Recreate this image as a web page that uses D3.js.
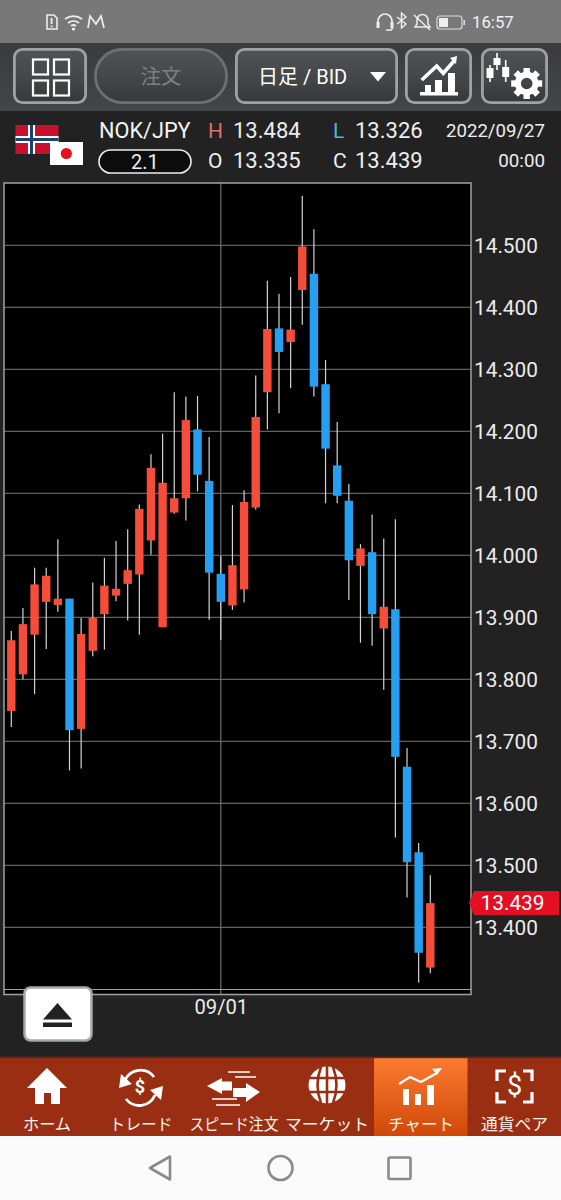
<!DOCTYPE html>
<html><head><meta charset="utf-8">
<script src="https://cdn.jsdelivr.net/npm/d3@7"></script>
<style>html,body{margin:0;padding:0;background:#222}svg{display:block}text{font-family:Roboto,"Noto Sans CJK JP",sans-serif}</style>
</head><body><div id="c"></div>
<script>
const dates=["08/08","08/09","08/10","08/11","08/12","08/15","08/16","08/17","08/18","08/19","08/22","08/23","08/24","08/25","08/26","08/29","08/30","08/31","09/01","09/02","09/05","09/06","09/07","09/08","09/09","09/12","09/13","09/14","09/15","09/16","09/19","09/20","09/21","09/22","09/23","09/26","09/27"];
const opens =[13.749,13.808,13.872,13.925,13.920,13.930,13.720,13.846,13.905,13.935,13.954,13.969,14.024,13.884,14.069,14.092,14.203,14.120,13.970,13.919,13.945,14.077,14.263,14.366,14.344,14.428,14.454,14.276,14.145,14.088,13.983,14.005,13.882,13.913,13.659,13.521,13.335];
const highs =[13.878,13.915,13.980,13.980,14.026,13.930,13.899,13.956,13.996,14.023,14.042,14.082,14.163,14.196,14.263,14.256,14.257,14.191,13.999,14.081,14.105,14.290,14.443,14.422,14.449,14.580,14.526,14.315,14.215,14.115,14.018,14.066,14.027,14.058,13.689,13.536,13.484];
const lows  =[13.723,13.800,13.776,13.849,13.909,13.653,13.656,13.837,13.848,13.926,13.895,13.872,14.001,13.884,14.067,14.056,14.103,13.896,13.863,13.912,13.924,14.074,14.203,14.229,14.270,14.372,14.256,14.084,14.084,13.928,13.859,13.854,13.783,13.545,13.448,13.311,13.326];
const closes=[13.863,13.889,13.953,13.967,13.930,13.718,13.873,13.899,13.951,13.946,13.976,14.075,14.141,14.117,14.092,14.218,14.130,13.972,13.925,13.984,14.086,14.223,14.365,14.328,14.364,14.498,14.272,14.172,14.096,13.992,14.011,13.905,13.917,13.675,13.505,13.359,13.439];
const priceTicks=[13.4,13.5,13.6,13.7,13.8,13.9,14.0,14.1,14.2,14.3,14.4,14.5];
const dateTicks=["09/01"];
const lastPrice=13.439;
const navLabels=["ホーム","トレード","スピード注文","マーケット","チャート","通貨ペア"];
const navWidths=[48,63,89,84,66,67];
const navCenters=[47,141,234,327,421,514.5];

const svg=d3.select("#c").append("svg").attr("width",561).attr("height",1200).attr("viewBox","0 0 561 1200");
const defs=svg.append("defs");
function grad(id,stops){const g=defs.append("linearGradient").attr("id",id).attr("x1",0).attr("y1",0).attr("x2",0).attr("y2",1);
 stops.forEach(([o,c])=>g.append("stop").attr("offset",o).attr("stop-color",c));}
grad("tb",[[0,"#3a3b3d"],[1,"#434547"]]);
grad("btn",[[0,"#505356"],[.5,"#45484a"],[1,"#36383a"]]);
grad("sel",[[0,"#fb7b30"],[1,"#d04808"]]);
const R=(x,y,w,h,f,o={})=>{const r=svg.append("rect").attr("x",x).attr("y",y).attr("width",w).attr("height",h).attr("fill",f);for(const k in o)r.attr(k,o[k]);return r;};
const T=(p,s,x,y,size,fill,anchor="start",o={})=>{const t=p.append("text").text(s).attr("x",x).attr("y",y).attr("font-size",size).attr("fill",fill).attr("text-anchor",anchor);for(const k in o)t.attr(k,o[k]);return t;};
const P=(p,d,f,o={})=>{const t=p.append("path").attr("d",d).attr("fill",f);for(const k in o)t.attr(k,o[k]);return t;};

/* backgrounds */
R(0,0,561,1200,"#222222");
R(0,0,561,43,"#787878");
R(0,43,561,68,"url(#tb)");

/* status bar */
const st=svg.append("g");
P(st,"M47 15h7l3 3v11h-10z","none",{stroke:"#eee","stroke-width":1.6});
R(50.7,18,1.8,6,"#eee");R(50.7,25.5,1.8,1.8,"#eee");
P(st,"M65 19a14 14 0 0 1 17 0M68 23a9 9 0 0 1 11 0M71 26a4 4 0 0 1 5 0","none",{stroke:"#eee","stroke-width":1.7});
st.append("circle").attr("cx",73.5).attr("cy",29).attr("r",1.6).attr("fill","#eee");
P(st,"M88 28l2-12 6 8 5-8 3 12","none",{stroke:"#eee","stroke-width":1.7});
P(st,"M378 26v-5a7 7 0 0 1 14 0v5M386 30h4a2 2 0 0 0 2-3","none",{stroke:"#eee","stroke-width":1.7});
R(376.5,22,3,6,"#eee");R(390.5,22,3,6,"#eee");
P(st,"M397 17l9 7-4.5 4v-15l4.5 4-9 7","none",{stroke:"#eee","stroke-width":1.4});
P(st,"M415 27h15l-2-3v-4a5.5 5.5 0 0 0-11 0v4zM414 15l16 15","none",{stroke:"#eee","stroke-width":1.5});
R(437,16,25,13,"none",{stroke:"#ddd","stroke-width":1.2,rx:3});
R(439,18,9,9,"#eee");R(463.5,20,1.5,5,"#ddd");
T(st,"16:57",472,28,16.8,"#f2f2f2");

/* toolbar */
const btn=(x,w,rx,stroke)=>R(x+1.4,49.4,w-2.8,53.2,"url(#btn)",{rx,stroke,"stroke-width":2.8});
btn(13,74,8,"#9ea2a2");
[[32,60],[53,60],[32,81],[53,81]].forEach(([x,y])=>R(x+1,y-.5,15,15,"none",{stroke:"#fff","stroke-width":2.2}));
btn(94,134,27,"#6d7071");
T(svg,"注文",161,84,20.5,"#7d7f80","middle");
btn(235,163,8,"#9ea2a2");
T(svg,"日足 / BID",258,84,20,"#fff");
P(svg,"M370 72h16l-8 9.5z","#fff");
btn(405,67,8,"#9ea2a2");
const ci=svg.append("g");
R(420,92,38,3.5,"#fff");
R(425,85,6,7,"#fff");R(435,80,7,12,"#fff");R(448,73,7,19,"#fff");
P(ci,"M421.7 80L436.7 66L443.3 73.3L454 61","none",{stroke:"#fff","stroke-width":3.6});
P(ci,"M450 58l7-2-1 8z","#fff");
btn(481,67,8,"#9ea2a2");
[[490,68,10,65,82],[497,58,7,53,70],[505.7,67,10,60,82]].forEach(([x,y,h,a,b])=>{R(x-.8,a,1.6,b-a,"#fff");R(x-3.5,y,7,h,"#fff");});
const gear=svg.append("g").attr("transform","translate(526.7,83.5)");
gear.append("circle").attr("r",8.8).attr("fill","none").attr("stroke","#fff").attr("stroke-width",6);
d3.range(8).forEach(i=>gear.append("rect").attr("x",-3.2).attr("y",-15.5).attr("width",6.4).attr("height",5.5).attr("fill","#fff").attr("transform",`rotate(${i*45})`));

/* quote header */
R(15.5,125,43,29,"#c8102e");
R(15.5,136,43,7,"#fff");R(28,125,7,29,"#fff");
R(15.5,138,43,3,"#1d3f72");R(30,125,3,29,"#1d3f72");
R(50,142,33,23,"#fff");
svg.append("circle").attr("cx",66.3).attr("cy",153.5).attr("r",5.6).attr("fill","#e8101c");
T(svg,"NOK/JPY",99,138,21.7,"#f5f5f5");
R(99,150,92,23,"#0c0c0c",{rx:11.5,stroke:"#eee","stroke-width":1.6});
T(svg,"2.1",145,169,20,"#eee","middle");
const qc="#eeeeee",qs=22;
T(svg,"H",208,138,21,"#df6f68");T(svg,"13.484",233,138,qs,qc);
T(svg,"L",333,138,21,"#4cb6de");T(svg,"13.326",355,138,qs,qc);
T(svg,"O",208,168,21,qc);T(svg,"13.335",233,168,qs,qc);
T(svg,"C",333,168,21,qc);T(svg,"13.439",355,168,qs,qc);
T(svg,"2022/09/27",545,137,18.6,qc,"end");
T(svg,"00:00",545,167,18.8,qc,"end");

/* chart */
const x=d3.scalePoint().domain(dates).range([11.3,430.3]);
const y=d3.scaleLinear().domain([13.4,14.5]).range([927.3,245.3]);
const fLeft=4,fRight=471,fTop=183,fBottom=994.5,innerBottom=989.5;
R(fLeft,fTop,fRight-fLeft,fBottom-fTop,"#000");
const chart=svg.append("g");
chart.selectAll("line.g").data(priceTicks).join("line").attr("class","g")
 .attr("x1",fLeft).attr("x2",fRight).attr("y1",d=>y(d)).attr("y2",d=>y(d)).attr("stroke","#7a7a7a").attr("stroke-width",1);
chart.selectAll("line.v").data(dateTicks).join("line").attr("class","v")
 .attr("x1",d=>x(d)).attr("x2",d=>x(d)).attr("y1",fTop).attr("y2",fBottom).attr("stroke","#6e6e6e").attr("stroke-width",1.2);
const idx=d3.range(dates.length);
chart.selectAll("line.w").data(idx).join("line").attr("class","w")
 .attr("x1",i=>x(dates[i])).attr("x2",i=>x(dates[i])).attr("y1",i=>y(highs[i])).attr("y2",i=>y(lows[i]))
 .attr("stroke","#d4d4d4").attr("stroke-width",1.2);
chart.selectAll("rect.b").data(idx).join("rect").attr("class","b")
 .attr("x",i=>x(dates[i])-4.2).attr("width",8.4)
 .attr("y",i=>y(Math.max(opens[i],closes[i])))
 .attr("height",i=>Math.abs(y(opens[i])-y(closes[i])))
 .attr("fill",i=>closes[i]>=opens[i]?"#f64d3a":"#279ff0");
R(fLeft,fTop,fRight-fLeft,fBottom-fTop,"none",{stroke:"#a2a2a2","stroke-width":1.5});
svg.append("line").attr("x1",fLeft).attr("x2",fRight).attr("y1",innerBottom).attr("y2",innerBottom).attr("stroke","#a2a2a2").attr("stroke-width",1);

const ax=svg.append("g").attr("transform",`translate(${fRight+3},0)`)
 .call(d3.axisRight(y).tickValues(priceTicks).tickSize(0).tickPadding(0).tickFormat(d3.format(".3f")));
ax.select(".domain").remove();
ax.selectAll("text").attr("font-size",20.8).attr("fill","#ececec").attr("font-family","Roboto").attr("dy","0.34em");

const xa=svg.append("g").attr("transform",`translate(0,${fBottom})`)
 .call(d3.axisBottom(x).tickValues(dateTicks).tickSize(0).tickPadding(0));
xa.select(".domain").remove();
xa.selectAll("text").attr("font-size",20.2).attr("fill","#ececec").attr("font-family","Roboto").attr("y",19.5).attr("dy",0);

/* last price tag */
const ly=y(lastPrice);
svg.append("path").attr("d",d3.line()([[469,ly],[474,ly-12],[559,ly-12],[559,ly+12],[474,ly+12]])+"Z").attr("fill","#e30f22");
T(svg,d3.format(".3f")(lastPrice),512.5,ly+7,20.8,"#fff","middle");

/* eject button */
R(24.5,987.5,67,53,"#fff",{rx:6,stroke:"#a5a9a9","stroke-width":2.5});
P(svg,"M57.5 1003l14.5 16.5h-29z","#222");
R(43,1022.5,29,4.5,"#222");

/* bottom nav */
R(0,1058,561,78,"#9a2e12");
R(374,1058,93.5,78,"url(#sel)");
R(0,1056.6,561,1.6,"#5d2a1a");
navLabels.forEach((s,i)=>T(svg,s,navCenters[i],1129.5,16,"#fbf3ee","middle",{textLength:navWidths[i],lengthAdjust:"spacingAndGlyphs","font-family":'"Noto Sans CJK JP"'}));
const W="#fff";
P(svg,"M47 1068l20 20h-7v16h-9v-11h-7v11h-9v-16h-8z",W);
/* trade */
P(svg,"M125 1080a17 17 0 0 1 29-3M155 1095a17 17 0 0 1-29 4","none",{stroke:W,"stroke-width":2.8});
P(svg,"M121 1074l11 10-13 4zM161 1100l-11-10 13-4z",W);
T(svg,"$",140,1093,18,W,"middle",{"font-weight":700});
/* speed */
P(svg,"M207 1086l15-8v3.5h10v9h-10v3.5z",W);
P(svg,"M260 1092l-14-9v5h-13v9h13v5z",W);
P(svg,"M228 1072h22M235 1077h21M212 1099h25M216 1105h24","none",{stroke:W,"stroke-width":1.5});
/* globe */
const gl=svg.append("g").attr("transform","translate(327,1085)");
gl.append("circle").attr("r",18.5).attr("fill",W);
["M-19 -7H19M-19 7H19M0 -19V19","M-6 -18Q-13 0 -6 18M6 -18Q13 0 6 18"].forEach(d=>P(gl,d,"none",{stroke:"#9a2e12","stroke-width":2.6}));
/* chart icon */
R(403,1089,6,16,W);R(415,1094,6,11,W);R(427,1085,7,20,W);
P(svg,"M399 1084l11-7 11 5 16-9","none",{stroke:W,"stroke-width":2.4});
P(svg,"M432 1069l10-1-5 7z",W);
/* pair */
P(svg,"M506 1071h-9v10M523 1071h9v10M497 1092v10h9M532 1092v10h-9","none",{stroke:W,"stroke-width":3.2});
T(svg,"$",514.5,1095,27,W,"middle");

/* android nav */
R(0,1136,561,64,"#fbfbfb");
const nv={stroke:"#8a8a8a","stroke-width":2.6,"stroke-linejoin":"round"};
P(svg,"M170 1156.5v23l-20-11.5z","none",nv);
svg.append("circle").attr("cx",280.5).attr("cy",1168).attr("r",12).attr("fill","none").attr("stroke","#8a8a8a").attr("stroke-width",2.6);
R(388.5,1157.5,22,21.5,"none",{...nv,rx:1.5});
</script></body></html>
